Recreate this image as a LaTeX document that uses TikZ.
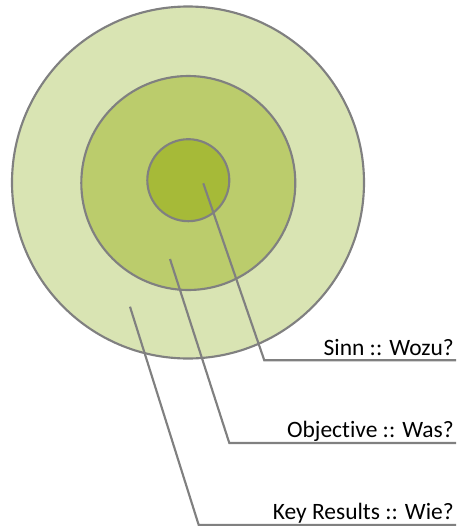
\documentclass[tikz,border=0pt]{standalone}
\usepackage{fontspec}
\setmainfont{Carlito}[Ligatures=NoCommon]
\definecolor{ringout}{RGB}{217,228,179}
\definecolor{ringmid}{RGB}{187,204,108}
\definecolor{ringin}{RGB}{166,186,56}
\definecolor{edgegray}{RGB}{128,128,128}
\begin{document}
\begin{tikzpicture}[x=0.75pt,y=-0.75pt,
  ring/.style={circle,draw=edgegray,line width=1.6pt,inner sep=0pt},
  leader/.style={draw=edgegray,line width=1.6pt,line join=miter},
  lbl/.style={anchor=base east,inner sep=0pt,font=\fontsize{17.6}{20}\selectfont}]
\useasboundingbox (0,0) rectangle (468,526);
\node[ring,fill=ringout,minimum size=352*0.75pt] (outer) at (188,182.5) {};
\node[ring,fill=ringmid,minimum size=214*0.75pt] (middle) at (188.3,183) {};
\node[ring,fill=ringin,minimum size=82*0.75pt] (inner) at (188.3,180.2) {};
\coordinate (s1) at (203.3,183.3);
\coordinate (c1) at (264.3,360.3);
\coordinate (e1) at (456,360.3);
\coordinate (s2) at (170,259);
\coordinate (c2) at (229.3,443);
\coordinate (e2) at (456,443);
\coordinate (s3) at (130,306.7);
\coordinate (c3) at (198.7,525);
\coordinate (e3) at (456,525);
\node[lbl] (t1) at (454,355) {Sinn :: Wozu?};
\node[lbl] (t2) at (454,437) {Objective :: Was?};
\node[lbl] (t3) at (454,519) {Key Results :: Wie?};
\draw[leader] (s1) -- (c1) -- (e1);
\draw[leader] (s2) -- (c2) -- (e2);
\draw[leader] (s3) -- (c3) -- (e3);
\end{tikzpicture}
\end{document}
